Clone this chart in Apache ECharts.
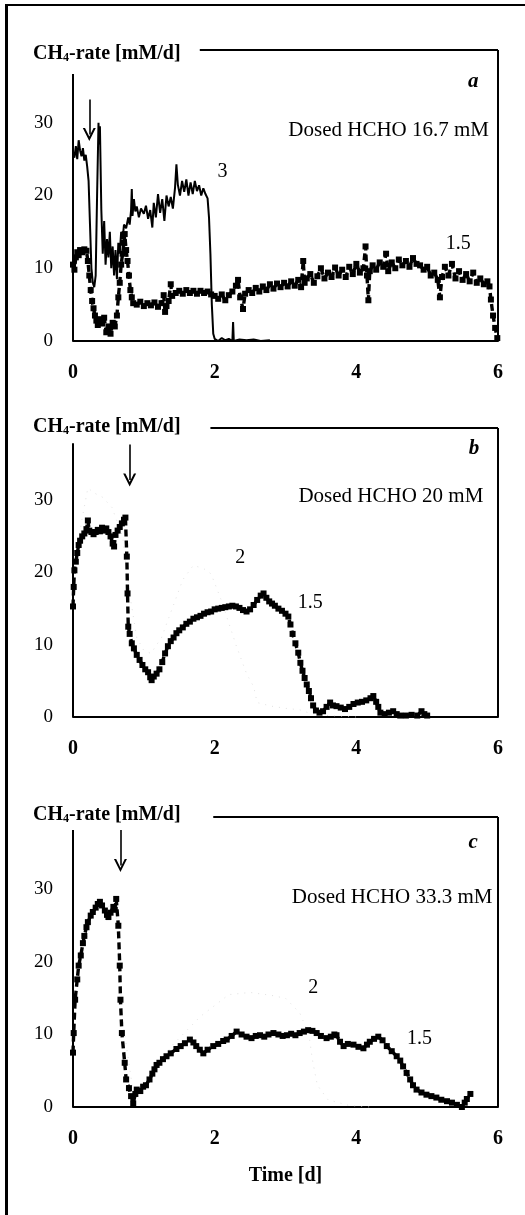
<!DOCTYPE html>
<html>
<head>
<meta charset="utf-8">
<title>CH4 production rate after formaldehyde dosing</title>
<script src="https://cdn.jsdelivr.net/npm/echarts@6/dist/echarts.min.js"></script>
<style>
  html, body { margin: 0; padding: 0; background: #fff; }
  #chart { position: absolute; left: 0; top: 0; width: 525px; height: 1215px; }
  /* page frame: rule along the left and top edge */
  #frame { position: absolute; left: 5px; top: 4px; width: 520px; height: 1211px;
           border-left: 3px solid #000; border-top: 2px solid #000; box-sizing: border-box;
           pointer-events: none; }
</style>
</head>
<body>
<div id="chart"></div>
<div id="frame"></div>
<script>
// ---- axis ticks ----
const timeTicks = [0, 2, 4, 6];       // Time [d]
const rateTicks = [0, 10, 20, 30];    // CH4-rate [mM/d]

// ---- panel a: dosed HCHO 16.7 mM ----
const rateA3 = [
  [0,26.0],[0.02,25.2],[0.04,26.8],[0.06,25.0],[0.08,27.6],[0.1,26.2],[0.12,25.4],[0.14,26.5],
  [0.16,24.8],[0.18,25.6],[0.2,24.0],[0.22,22.0],[0.24,16.0],[0.26,10.0],[0.28,8.0],[0.3,7.4],
  [0.32,9.0],[0.34,20.0],[0.36,30.0],[0.37,27.0],[0.38,29.5],[0.4,18.0],[0.42,12.0],[0.44,16.5],
  [0.46,10.5],[0.48,14.0],[0.5,11.5],[0.52,15.0],[0.54,10.0],[0.56,13.0],[0.58,9.0],[0.6,12.5],
  [0.62,8.5],[0.64,13.5],[0.66,12.0],[0.68,15.0],[0.7,14.0],[0.72,16.0],[0.75,15.5],[0.78,17.0],
  [0.8,16.0],[0.82,18.0],[0.83,20.9],[0.84,17.2],[0.86,19.5],[0.88,17.8],[0.9,18.5],[0.93,17.0],
  [0.96,18.2],[1.0,17.5],[1.03,18.6],[1.06,16.8],[1.09,18.0],[1.12,15.6],[1.14,19.0],[1.17,17.0],
  [1.2,20.2],[1.23,17.6],[1.26,19.5],[1.29,16.5],[1.32,20.0],[1.35,18.5],[1.38,19.8],[1.41,18.2],
  [1.44,21.0],[1.46,24.3],[1.48,21.5],[1.51,20.0],[1.54,22.0],[1.57,20.5],[1.6,22.2],[1.63,20.0],
  [1.66,21.8],[1.69,20.2],[1.72,22.0],[1.75,20.6],[1.78,21.4],[1.81,20.0],[1.84,21.0],[1.87,20.2],
  [1.9,19.6],[1.92,17.0],[1.94,12.0],[1.96,5.0],[1.98,1.0],[2.0,0.3],[2.05,0.0],[2.1,0.4],
  [2.15,0.1],[2.2,0.3],[2.25,0.0],[2.26,2.6],[2.27,0.0],[2.35,0.2],[2.45,0.1],[2.55,0.2],
  [2.65,0.0],[2.78,0.1]
];
const rateA15 = [
  [0,10.5],[0.02,9.8],[0.04,11.5],[0.06,12.2],[0.08,11.8],[0.1,12.5],[0.13,12.2],[0.16,12.6],
  [0.19,12.4],[0.21,11.0],[0.23,9.0],[0.25,7.0],[0.27,5.5],[0.29,4.5],[0.31,3.5],[0.33,2.8],
  [0.35,2.2],[0.38,3.0],[0.41,2.4],[0.44,3.2],[0.47,1.2],[0.5,2.0],[0.53,1.0],[0.56,2.5],
  [0.59,2.0],[0.62,3.5],[0.64,6.0],[0.66,8.0],[0.68,10.5],[0.7,12.0],[0.72,13.5],[0.73,14.7],
  [0.75,12.5],[0.77,11.0],[0.79,9.0],[0.81,7.0],[0.83,6.0],[0.85,5.2],[0.9,5.0],[0.95,5.4],
  [1.0,4.8],[1.05,5.2],[1.1,4.9],[1.15,5.3],[1.2,4.7],[1.25,5.2],[1.28,6.3],[1.3,4.0],
  [1.32,4.8],[1.35,5.5],[1.38,7.8],[1.4,6.2],[1.45,6.6],[1.5,6.9],[1.55,6.5],[1.6,7.0],
  [1.65,6.6],[1.7,6.9],[1.75,6.5],[1.8,6.9],[1.85,6.6],[1.9,6.8],[1.95,6.4],[2.0,6.2],
  [2.05,5.8],[2.1,6.4],[2.15,5.6],[2.2,6.3],[2.25,6.8],[2.3,7.6],[2.33,8.4],[2.36,6.0],
  [2.4,4.4],[2.43,6.5],[2.48,7.0],[2.53,6.6],[2.58,7.3],[2.63,6.8],[2.68,7.5],[2.73,7.0],
  [2.78,7.8],[2.83,7.2],[2.88,7.9],[2.93,7.4],[2.98,8.0],[3.03,7.5],[3.08,8.2],[3.13,7.6],
  [3.18,8.4],[3.22,7.4],[3.25,11.0],[3.27,8.0],[3.3,8.6],[3.35,9.2],[3.4,8.0],[3.45,8.9],
  [3.5,10.0],[3.55,8.6],[3.6,9.4],[3.65,8.8],[3.7,10.1],[3.75,9.0],[3.8,9.8],[3.85,8.8],
  [3.9,10.2],[3.95,9.2],[4.0,10.6],[4.05,9.4],[4.1,10.0],[4.13,13.0],[4.15,9.0],[4.17,5.6],
  [4.19,9.6],[4.23,10.4],[4.28,9.8],[4.33,10.8],[4.38,10.2],[4.42,12.0],[4.45,9.6],[4.5,10.8],
  [4.55,10.0],[4.6,11.2],[4.65,10.4],[4.7,11.0],[4.75,10.2],[4.8,11.4],[4.85,10.6],[4.9,10.4],
  [4.95,9.8],[5.0,10.2],[5.05,9.0],[5.1,9.4],[5.15,8.4],[5.18,6.0],[5.21,8.8],[5.25,10.2],
  [5.3,9.0],[5.35,10.6],[5.4,8.6],[5.45,9.6],[5.5,8.4],[5.55,9.2],[5.6,8.2],[5.65,9.4],
  [5.7,8.0],[5.75,8.6],[5.8,7.8],[5.85,8.2],[5.88,7.5],[5.9,5.7],[5.93,3.5],[5.96,1.8],[5.99,0.4]
];

// ---- panel b: dosed HCHO 20 mM ----
const rateB2 = [
  [0.05,22.5],[0.12,27.0],[0.21,31.7],[0.3,31.0],[0.42,30.4],[0.55,29.0],[0.7,25.0],[0.8,17.0],
  [0.9,11.0],[1.0,9.2],[1.1,8.8],[1.25,11.0],[1.4,15.0],[1.55,19.0],[1.7,21.0],[1.85,20.5],
  [1.95,19.8],[2.1,16.0],[2.3,10.0],[2.45,6.0],[2.55,4.2],[2.6,2.0],[2.8,1.5],[3.0,1.2],
  [3.2,1.0],[3.35,0.5],[3.6,0.2],[4.0,0.0]
];
const rateB15 = [
  [0,15.3],[0.01,18.0],[0.02,20.3],[0.04,21.5],[0.06,22.7],[0.08,23.8],[0.1,24.4],[0.13,25.0],
  [0.16,25.4],[0.19,26.0],[0.21,27.2],[0.23,25.8],[0.26,25.6],[0.29,25.3],[0.32,25.6],[0.35,25.9],
  [0.38,25.7],[0.41,26.2],[0.44,25.8],[0.47,26.1],[0.5,25.6],[0.53,25.0],[0.56,24.0],[0.58,23.6],
  [0.6,25.2],[0.63,25.8],[0.66,26.3],[0.69,26.8],[0.72,27.3],[0.74,27.6],[0.76,22.2],[0.77,17.1],
  [0.78,12.5],[0.8,11.5],[0.83,10.2],[0.86,9.5],[0.9,8.6],[0.94,7.9],[0.98,7.2],[1.02,6.6],
  [1.06,6.2],[1.09,5.5],[1.11,5.1],[1.14,5.6],[1.18,6.0],[1.22,6.6],[1.26,7.6],[1.3,8.8],
  [1.34,9.8],[1.38,10.5],[1.42,11.0],[1.46,11.6],[1.5,12.0],[1.55,12.4],[1.6,12.9],[1.65,13.2],
  [1.7,13.6],[1.75,13.8],[1.8,14.0],[1.85,14.3],[1.9,14.5],[1.95,14.6],[2.0,14.9],[2.05,15.0],
  [2.1,15.1],[2.15,15.2],[2.2,15.3],[2.25,15.4],[2.3,15.3],[2.35,15.1],[2.4,14.8],[2.45,14.6],
  [2.5,14.9],[2.55,15.5],[2.6,16.2],[2.65,16.8],[2.69,17.1],[2.73,16.5],[2.77,16.0],[2.81,15.7],
  [2.85,15.4],[2.9,15.0],[2.95,14.7],[3.0,14.3],[3.04,13.9],[3.07,12.8],[3.1,11.5],[3.14,10.2],
  [3.18,8.9],[3.21,7.5],[3.24,6.4],[3.27,5.4],[3.3,4.5],[3.33,3.6],[3.36,2.6],[3.39,1.6],
  [3.43,0.9],[3.48,0.6],[3.53,0.8],[3.58,1.4],[3.63,2.0],[3.67,1.6],[3.72,1.5],[3.78,1.3],
  [3.84,1.1],[3.9,1.4],[3.96,1.8],[4.02,2.0],[4.08,2.1],[4.14,2.3],[4.2,2.6],[4.24,2.9],
  [4.28,2.1],[4.31,1.4],[4.34,0.6],[4.4,0.4],[4.46,0.6],[4.52,0.8],[4.57,0.4],[4.62,0.2],
  [4.7,0.2],[4.78,0.3],[4.86,0.2],[4.92,0.8],[4.96,0.4],[5.0,0.2]
];

// ---- panel c: dosed HCHO 33.3 mM ----
const rateC2 = [
  [0.02,12.0],[0.1,20.0],[0.3,27.0],[0.6,28.0],[0.7,12.0],[0.85,2.0],[1.1,4.5],[1.4,8.5],
  [1.8,12.5],[2.2,15.5],[2.5,15.8],[2.8,15.4],[3.0,15.0],[3.2,13.0],[3.33,10.0],[3.38,6.5],
  [3.45,3.0],[3.6,1.0],[3.9,0.2],[4.2,0.0]
];
const rateC15 = [
  [0,7.5],[0.01,10.2],[0.03,14.8],[0.06,17.6],[0.08,19.5],[0.11,20.9],[0.14,22.6],[0.16,23.6],
  [0.19,24.8],[0.21,25.5],[0.25,26.4],[0.28,26.9],[0.32,27.5],[0.35,28.0],[0.38,28.3],[0.41,27.8],
  [0.45,27.1],[0.48,26.5],[0.5,26.2],[0.53,26.8],[0.57,27.6],[0.59,27.2],[0.61,28.7],[0.64,25.0],
  [0.66,19.5],[0.67,14.8],[0.69,10.2],[0.73,6.1],[0.75,3.8],[0.79,2.6],[0.82,1.5],[0.85,0.5],
  [0.88,1.8],[0.9,2.4],[0.95,2.2],[0.99,2.8],[1.03,3.0],[1.08,3.8],[1.12,4.6],[1.15,5.2],
  [1.18,5.8],[1.22,6.1],[1.27,6.6],[1.32,7.0],[1.38,7.4],[1.46,8.0],[1.52,8.4],[1.58,8.8],
  [1.65,9.3],[1.7,8.9],[1.74,8.4],[1.79,7.9],[1.84,7.4],[1.9,7.9],[1.98,8.4],[2.05,8.7],
  [2.12,9.1],[2.17,9.3],[2.24,9.8],[2.31,10.4],[2.38,10.0],[2.45,9.7],[2.52,9.5],[2.58,9.8],
  [2.64,9.9],[2.7,9.7],[2.76,10.0],[2.83,10.2],[2.9,10.0],[2.96,9.8],[3.02,9.9],[3.08,10.1],
  [3.14,9.9],[3.2,10.2],[3.26,10.4],[3.32,10.6],[3.38,10.5],[3.44,10.2],[3.5,9.8],[3.58,9.5],
  [3.64,9.7],[3.69,10.0],[3.72,9.9],[3.77,9.0],[3.82,8.4],[3.88,8.7],[3.96,8.6],[4.03,8.3],
  [4.1,8.1],[4.15,8.6],[4.19,9.0],[4.25,9.4],[4.31,9.7],[4.37,9.2],[4.43,8.4],[4.5,7.7],
  [4.57,7.0],[4.62,6.4],[4.66,5.6],[4.71,4.7],[4.76,3.8],[4.8,3.0],[4.85,2.4],[4.92,2.0],
  [4.99,1.7],[5.06,1.5],[5.13,1.3],[5.2,1.0],[5.28,0.8],[5.35,0.6],[5.42,0.3],[5.49,0.0],
  [5.53,0.6],[5.56,1.1],[5.61,1.8]
];

// ---- panel texts ----
const panelLetters = ['a', 'b', 'c'];
const doseTexts = ['Dosed HCHO 16.7 mM', 'Dosed HCHO 20 mM', 'Dosed HCHO 33.3 mM'];
const doseTextPos = [[5.88, 28.8], [5.80, 30.5], [5.93, 28.8]];
const letterPos = [[5.65, 35.7], [5.66, 37.1], [5.65, 36.5]];
// curve labels (ratio text and where it sits)
const curveLabels = [
  [['3', 2.11, 23.3], ['1.5', 5.44, 13.4]],
  [['2', 2.36, 22.0], ['1.5', 3.35, 15.8]],
  [['2', 3.39, 16.5], ['1.5', 4.89, 9.4]]
];
// dosing time arrows: x, from y, to y
const doseArrows = [[0.23, 33.2, 28.4], [0.80, 37.7, 32.8], [0.67, 38.2, 33.3]];
// box outline: top of the rate axis, start of the top rule
const axisTop = [36.7, 37.9, 38.2];
const topRuleStart = [1.79, 1.94, 1.98];

const SERIF = '"Liberation Serif", "Times New Roman", serif';
const grids = [
  { left: 73, width: 425, top: 50, height: 291 },
  { left: 73, width: 425, top: 428, height: 289 },
  { left: 73, width: 425, top: 817, height: 290 }
];
const titleTops = [44, 417, 805];

const chevron = 'path://M5,0 L10,10 L8.3,10 L5,3.4 L1.7,10 L0,10 Z';

function frameLines(i) {
  return {
    silent: true, symbol: 'none', animation: false,
    lineStyle: { color: '#000', width: 2, type: 'solid' },
    label: { show: false },
    emphasis: { disabled: true },
    data: [
      [{ coord: [0, 0] }, { coord: [0, axisTop[i]] }],
      [{ coord: [topRuleStart[i], 40] }, { coord: [6, 40] }],
      [{ coord: [6, 40] }, { coord: [6, 0] }]
    ]
  };
}

function annotations(i) {
  const items = [];
  items.push({
    coord: doseTextPos[i], value: doseTexts[i],
    label: { show: true, formatter: doseTexts[i], position: [0, 0], align: 'right', verticalAlign: 'middle',
             fontFamily: SERIF, fontSize: 21, color: '#000' }
  });
  items.push({
    coord: letterPos[i], value: panelLetters[i],
    label: { show: true, formatter: panelLetters[i], position: 'inside',
             fontFamily: SERIF, fontSize: 21, fontStyle: 'italic', fontWeight: 'bold', color: '#000' }
  });
  curveLabels[i].forEach(function (c) {
    items.push({
      coord: [c[1], c[2]], value: c[0],
      label: { show: true, formatter: c[0], position: 'inside',
               fontFamily: SERIF, fontSize: 20, color: '#000' }
    });
  });
  return {
    silent: true, animation: false, symbol: 'circle', symbolSize: 1,
    itemStyle: { color: 'rgba(0,0,0,0)' },
    data: items
  };
}

function arrowLine(i) {
  const a = doseArrows[i];
  return {
    silent: true, animation: false,
    symbol: ['none', chevron], symbolSize: [13, 13],
    lineStyle: { color: '#000', width: 1.6, type: 'solid' },
    itemStyle: { color: '#000' },
    label: { show: false },
    emphasis: { disabled: true },
    data: [[{ coord: [a[0], a[1]] }, { coord: [a[0], a[2]] }]]
  };
}

const xAxes = grids.map(function (g, i) {
  return {
    gridIndex: i, type: 'value', min: timeTicks[0], max: timeTicks[timeTicks.length - 1], interval: 2,
    axisLine: { show: true, onZero: false, lineStyle: { color: '#000', width: 2 } },
    axisTick: { show: false }, splitLine: { show: false },
    axisLabel: { fontFamily: SERIF, fontSize: 20, fontWeight: 'bold', color: '#000', margin: 22 },
    name: i === 2 ? 'Time [d]' : '', nameLocation: 'middle', nameGap: 59,
    nameTextStyle: { fontFamily: SERIF, fontSize: 20, fontWeight: 'bold', color: '#000' }
  };
});
const yAxes = grids.map(function (g, i) {
  return {
    gridIndex: i, type: 'value', min: rateTicks[0], max: 40, interval: 10,
    axisLine: { show: false }, axisTick: { show: false }, splitLine: { show: false },
    axisLabel: { fontFamily: SERIF, fontSize: 19, color: '#000', margin: 20, showMaxLabel: false,
                 formatter: function (v) { return rateTicks.indexOf(v) >= 0 ? String(v) : ''; } }
  };
});

const markerStyle = {
  symbol: 'rect', symbolSize: 6, showAllSymbol: true,
  lineStyle: { color: '#000', width: 3.4, type: [7, 4] },
  itemStyle: { color: '#000' }
};

function greySeries(i, data) {
  return {
    type: 'line', xAxisIndex: i, yAxisIndex: i, data: data, z: 1,
    symbol: 'none', clip: false, animation: false, silent: true,
    lineStyle: { color: '#d4d4d4', width: 1, type: [1, 6], opacity: 0.7 },
    markPoint: annotations(i),
    markLine: arrowLine(i)
  };
}
function markerSeries(i, data) {
  return Object.assign({
    type: 'line', xAxisIndex: i, yAxisIndex: i, data: data, z: 3,
    clip: false, animation: false, silent: true,
    markLine: frameLines(i)
  }, markerStyle);
}

const series = [
  // panel a
  {
    type: 'line', xAxisIndex: 0, yAxisIndex: 0, data: rateA3, z: 2,
    symbol: 'none', clip: false, animation: false, silent: true,
    lineStyle: { color: '#000', width: 2 },
    markPoint: annotations(0),
    markLine: arrowLine(0)
  },
  markerSeries(0, rateA15),
  // panel b
  greySeries(1, rateB2),
  markerSeries(1, rateB15),
  // panel c
  greySeries(2, rateC2),
  markerSeries(2, rateC15)
];

const titles = titleTops.map(function (t) {
  return {
    left: 33, top: t, padding: 0,
    text: '{b|CH}{s|4}{b|-rate [mM/d]}',
    textStyle: {
      rich: {
        b: { fontFamily: SERIF, fontSize: 20, fontWeight: 'bold', color: '#000' },
        s: { fontFamily: SERIF, fontSize: 12, fontWeight: 'bold', color: '#000', verticalAlign: 'bottom' }
      }
    }
  };
});

const chart = echarts.init(document.getElementById('chart'), null, { renderer: 'canvas' });
chart.setOption({
  backgroundColor: '#fff',
  animation: false,
  title: titles,
  grid: grids,
  xAxis: xAxes,
  yAxis: yAxes,
  series: series
});
</script>
</body>
</html>
